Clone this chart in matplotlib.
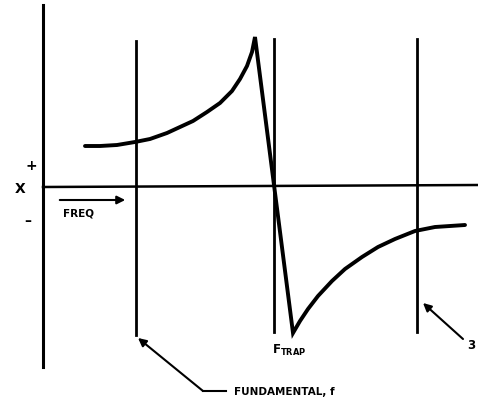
import numpy as np
import matplotlib.pyplot as plt

# reactance curve (pixel coordinates, y down)
left_x = [85, 100, 117, 135, 150, 167, 180, 193, 207, 220, 232, 240, 247, 252, 255]
left_y = [147, 147, 146, 143, 140, 134, 128, 122, 113, 104, 92, 80, 67, 53, 38]
drop_x = [255, 293]
drop_y = [38, 334]
right_x = [293, 300, 308, 318, 332, 345, 362, 378, 395, 415, 435, 465]
right_y = [334, 322, 310, 297, 282, 270, 258, 248, 240, 232, 228, 226]

# vertical markers: fundamental, trap, 3rd
vlines_x = [136, 274, 417]
vlines_top = [42, 40, 40]
vlines_bot = [336, 333, 333]

fig = plt.figure(figsize=(4.78, 4.02), dpi=100)
ax = fig.add_axes([0, 0, 1, 1])
ax.set_xlim(0, 478)
ax.set_ylim(402, 0)
ax.axis('off')

k = 'black'
# axes
ax.plot([43, 43], [6, 368], color=k, lw=2.2)
ax.plot([43, 478], [188, 186], color=k, lw=1.8)

for x, t, b in zip(vlines_x, vlines_top, vlines_bot):
    ax.plot([x, x], [t, b], color=k, lw=2.0)

# whole curve as one path so the peak and the trough stay sharp
curve_x = left_x + drop_x[1:-1] + right_x
curve_y = left_y + drop_y[1:-1] + right_y
ax.plot(curve_x, curve_y, color=k, lw=2.8, solid_capstyle='round',
        solid_joinstyle='miter')

# labels on the axis
txt = dict(color=k, fontweight='bold', family='DejaVu Sans')
ax.text(20, 189, 'X', fontsize=10, ha='center', va='center', **txt)
ax.text(31, 166, '+', fontsize=10, ha='center', va='center', **txt)
ax.text(28, 221, '\u2013', fontsize=10, ha='center', va='center', **txt)

ax.annotate('', xy=(128, 201), xytext=(57, 201),
            arrowprops=dict(arrowstyle='-|>', color=k, lw=1.5, mutation_scale=12))
ax.text(63, 214, 'FREQ', fontsize=7.5, ha='left', va='center', **txt)

ax.text(272, 350, r'F$_{\mathregular{TRAP}}$', fontsize=8.5, ha='left', va='center', **txt)

# fundamental leader
ax.plot([203, 226], [392, 392], color=k, lw=1.5)
ax.annotate('', xy=(138, 339), xytext=(203, 392),
            arrowprops=dict(arrowstyle='-|>', color=k, lw=1.5, mutation_scale=12,
                            shrinkA=0, shrinkB=0))
ax.text(234, 392, 'FUNDAMENTAL, f', fontsize=7.5, ha='left', va='center', **txt)

# 3rd harmonic leader
ax.annotate('', xy=(423, 304), xytext=(463, 340),
            arrowprops=dict(arrowstyle='-|>', color=k, lw=1.5, mutation_scale=12,
                            shrinkA=0, shrinkB=0))
ax.text(467, 346, '3', fontsize=8.5, ha='left', va='center', **txt)

plt.savefig('out.png', dpi=100)
